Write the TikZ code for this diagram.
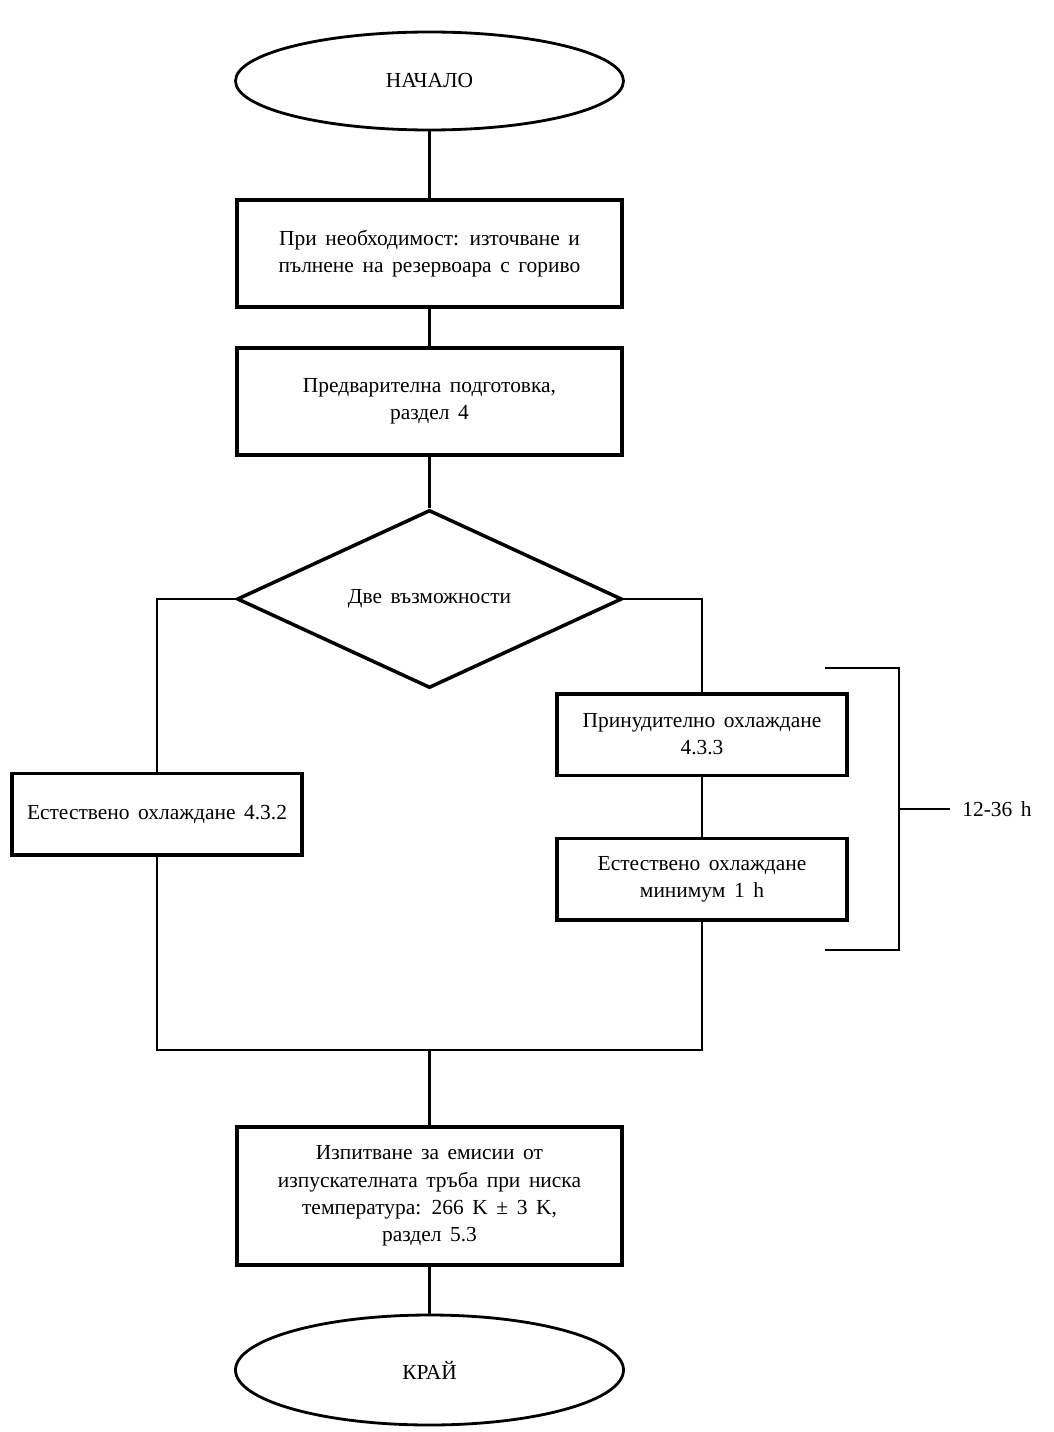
\documentclass[tikz,border=0pt]{standalone}
\usepackage{fontspec}
\setmainfont[WordSpace=1.6]{Liberation Serif}
\usetikzlibrary{shapes.geometric}

\begin{document}
\begin{tikzpicture}[
    font=\fontsize{12.2pt}{15.5pt}\selectfont,
    terminal/.style={ellipse, draw, line width=1.6pt, minimum width=7.76cm, align=center},
    procbox/.style={rectangle, draw, line width=2pt, minimum width=7.7cm, align=center},
    sidebox/.style={rectangle, draw, line width=2pt, minimum width=5.8cm, minimum height=1.63cm, align=center},
    decision/.style={diamond, draw, line width=2pt, aspect=2.16, minimum width=7.7cm, minimum height=3.56cm, inner sep=0pt},
    link/.style={line width=1.4pt},
]

\useasboundingbox (0,0) rectangle (21.08,-28.64);

% Start
\node[terminal, minimum height=1.96cm] (start) at (8.59,-1.62) {НАЧАЛО};

% Preparation
\node[procbox, minimum height=2.14cm] (drain) at (8.59,-5.07) {
    При необходимост: източване и\\
    пълнене на резервоара с гориво
};
\node[procbox, minimum height=2.14cm] (precond) at (8.59,-8.03) {
    Предварителна подготовка,\\
    раздел 4
};

% Decision
\node[decision] (choice) at (8.59,-11.98) {Две възможности};

% Left branch
\node[sidebox] (natural) at (3.14,-16.28) {Естествено охлаждане 4.3.2};

% Right branch
\node[sidebox] (forced) at (14.04,-14.69) {
    Принудително охлаждане\\
    4.3.3
};
\node[sidebox] (natmin) at (14.04,-17.58) {
    Естествено охлаждане\\
    минимум 1 h
};

% Test
\node[procbox, minimum height=2.76cm] (test) at (8.59,-23.92) {
    Изпитване за емисии от\\
    изпускателната тръба при ниска\\
    температура: 266 K ± 3 K,\\
    раздел 5.3
};

% End
\node[terminal, minimum height=2.2cm] (end) at (8.59,-27.4) {КРАЙ};

% Connections
\draw[link] (start) -- (drain);
\draw[link] (drain) -- (precond);
\draw[link] (precond) -- (choice);
\draw[link] (choice.west) -| (natural.north);
\draw[link] (choice.east) -| (forced.north);
\draw[link] (forced) -- (natmin);
\coordinate (join) at (8.59,-21);
\draw[link] (natural.south) |- (join) -| (natmin.south);
\draw[link] (join) -- (test);
\draw[link] (test) -- (end);

% Time bracket
\coordinate (brTop) at (16.5,-13.36);
\coordinate (brBot) at (16.5,-19.0);
\coordinate (brMid) at (17.98,-16.18);
\node[anchor=west, inner xsep=0.24cm] (hours) at (19.0,-16.18) {12-36 h};
\draw[line width=1.1pt] (brTop) -| (brMid) |- (brBot);
\draw[line width=1.1pt] (brMid) -- (hours.west);

\end{tikzpicture}
\end{document}
